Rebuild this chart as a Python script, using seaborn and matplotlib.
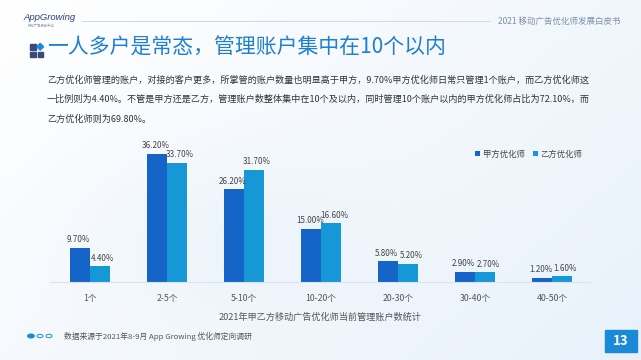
import numpy as np
import pandas as pd
import matplotlib
matplotlib.use("Agg")
import matplotlib.pyplot as plt
from matplotlib.patches import Rectangle, Circle, Polygon
from matplotlib.lines import Line2D
import seaborn as sns

categories = ["1个", "2-5个", "5-10个", "10-20个", "20-30个", "30-40个", "40-50个"]
series_names = ["甲方优化师", "乙方优化师"]
jia_values = [9.70, 36.20, 26.20, 15.00, 5.80, 2.90, 1.20]
yi_values = [4.40, 33.70, 31.70, 16.60, 5.20, 2.70, 1.60]

title = "一人多户是常态，管理账户集中在10个以内"
header_right = "2021 移动广告优化师发展白皮书"
logo = "AppGrowing"
paragraph = [
    "乙方优化师管理的账户，对接的客户更多，所掌管的账户数量也明显高于甲方，9.70%甲方优化师日常只管理1个账户，而乙方优化师这",
    "一比例则为4.40%。不管是甲方还是乙方，管理账户数整体集中在10个及以内，同时管理10个账户以内的甲方优化师占比为72.10%，而",
    "乙方优化师则为69.80%。",
]
caption = "2021年甲乙方移动广告优化师当前管理账户数统计"
source = "数据来源于2021年8-9月 App Growing 优化师定向调研"
page_no = "13"

sns.set_theme(style="white")
plt.rcParams["font.family"] = ["Noto Sans CJK SC", "DejaVu Sans"]

W, H = 641, 360
fig = plt.figure(figsize=(W / 100, H / 100), dpi=100)

# background gradient
bg = fig.add_axes([0, 0, 1, 1], zorder=-10)
yy, xx = np.mgrid[0:1:200j, 0:1:360j]
val = np.clip(0.55 * xx + 0.35 * (1 - yy) + 0.25 * np.exp(-((xx - 0.35) ** 2 + (yy - 0.35) ** 2) / 0.05), 0, 1)
c0 = np.array([1.0, 1.0, 1.0])
c1 = np.array([0.90, 0.94, 0.98])
img = c0[None, None, :] * (1 - val[..., None]) + c1[None, None, :] * val[..., None]
bg.imshow(img, extent=[0, 1, 0, 1], aspect="auto", origin="lower")
bg.set_xlim(0, 1)
bg.set_ylim(0, 1)
bg.axis("off")

def fx(px):
    return px / W

def fy(py):
    return 1 - py / H

# header
fig.text(fx(23), fy(18), logo, fontsize=6.8, color="#2d3f7a", fontstyle="italic", va="center",
         family=["Liberation Sans", "DejaVu Sans"])
fig.text(fx(28), fy(26), "移动广告投放平台", fontsize=2.4, color="#8090a8", va="center")
bg.add_line(Line2D([fx(82), fx(490)], [fy(21), fy(21)], color="#c5d3e3", lw=0.6))
fig.text(fx(620), fy(21), header_right, fontsize=6.1, color="#7d8fa6", ha="right", va="center")

# title icon: 2x2 squares, top-right one a blue diamond
sq = 5.5
for (x0, y0, c) in [(30, 44, "#3a4a7a"), (37.5, 44, "#1a8ad8"), (30, 51.5, "#3a4a7a"), (37.5, 51.5, "#3a4a7a")]:
    if c == "#1a8ad8":
        cx, cy = x0 + sq / 2, y0 + sq / 2
        r = 3.4
        bg.add_patch(Polygon([(fx(cx), fy(cy - r)), (fx(cx + r), fy(cy)), (fx(cx), fy(cy + r)), (fx(cx - r), fy(cy))],
                             closed=True, color=c, transform=bg.transAxes))
    else:
        bg.add_patch(Rectangle((fx(x0), fy(y0 + sq)), sq / W, sq / H, color=c, transform=bg.transAxes))
fig.text(fx(47), fy(48), title, fontsize=15, color="#1e7fd0", va="center", ha="left")

# paragraph
for i, line in enumerate(paragraph):
    fig.text(fx(47), fy(80 + 19.5 * i), line, fontsize=6.55, color="#333333", va="center", ha="left")

# chart
ax = fig.add_axes([fx(50), fy(282), fx(590) - fx(50), (282 - 140.4) / H])
df = pd.DataFrame({
    "category": categories * 2,
    "series": [series_names[0]] * len(categories) + [series_names[1]] * len(categories),
    "value": jia_values + yi_values,
})
palette = {series_names[0]: "#1565c8", series_names[1]: "#1798d6"}
sns.barplot(data=df, x="category", y="value", hue="series", palette=palette,
            width=0.52, gap=0, saturation=1, ax=ax, order=categories, hue_order=series_names,
            linewidth=0, errorbar=None)
ax.set_facecolor("none")
ax.set_xlim(-0.52, 6.49)
ax.set_ylim(0, 40)
ax.set_xlabel("")
ax.set_ylabel("")
ax.set_yticks([])
for s in ["top", "right", "left"]:
    ax.spines[s].set_visible(False)
ax.spines["bottom"].set_color("#dbe4ee")
ax.spines["bottom"].set_linewidth(0.8)
ax.tick_params(axis="x", length=0, labelsize=6.3, labelcolor="#555555", pad=9)

offsets = [-1.0, 2.0]
for k, cont in enumerate(ax.containers):
    for bar, v in zip(cont.patches, cont.datavalues):
        ax.annotate(f"{v:.2f}%", xy=(bar.get_x() + bar.get_width() / 2, bar.get_height()),
                    xytext=(offsets[k], 2.5), textcoords="offset points",
                    ha="center", va="bottom", fontsize=5.8, color="#444444")

leg = ax.legend(loc="center left", bbox_to_anchor=((475 - 50) / 540, (282 - 154) / 141.6), ncol=2,
                frameon=False, fontsize=6.0, handlelength=0.6, handleheight=0.6, columnspacing=1.0,
                handletextpad=0.3, borderaxespad=0, borderpad=0)
for t in leg.get_texts():
    t.set_color("#444444")

# caption and footer
fig.text(fx(320), fy(317), caption, fontsize=6.6, color="#555555", ha="center", va="center")
bg.add_patch(Circle((fx(31), fy(336)), 3.2 / W, color="#1a8ad8", transform=bg.transAxes))
bg.add_patch(Circle((fx(40), fy(336)), 3.0 / W, facecolor="none", edgecolor="#1a8ad8", lw=0.7, transform=bg.transAxes))
bg.add_patch(Circle((fx(49), fy(336)), 3.0 / W, facecolor="none", edgecolor="#1a8ad8", lw=0.7, transform=bg.transAxes))
fig.text(fx(64), fy(336), source, fontsize=5.6, color="#555555", ha="left", va="center")

bg.add_patch(Rectangle((fx(605), fy(352)), 32 / W, 22 / H, color="#1a8ad8", transform=bg.transAxes))
fig.text(fx(621), fy(341), page_no, fontsize=9.5, color="white", fontweight="bold", ha="center", va="center")

fig.savefig("out.png", dpi=100)
